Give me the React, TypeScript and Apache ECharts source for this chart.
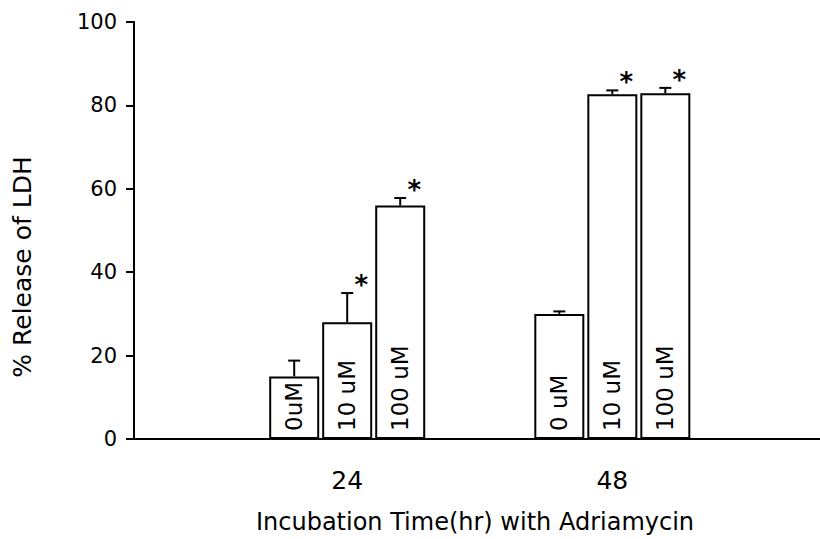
import React, { useEffect, useRef } from "react";
import * as echarts from "echarts";

// Incubation time (hr) groups
const hours = [24, 48];
// Bar labels per dose, per group
const doseLabels0 = ["0uM", "0 uM"];
const doseLabels10 = ["10 uM", "10 uM"];
const doseLabels100 = ["100 uM", "100 uM"];
// % Release of LDH (mean)
const values0 = [15, 30];
const values10 = [28, 82.7];
const values100 = [56, 82.9];
// Top of error bar (mean + SE)
const errTop0 = [18.8, 30.6];
const errTop10 = [35, 83.6];
const errTop100 = [57.8, 84.2];
// Significance marks
const sig0 = [false, false];
const sig10 = [true, true];
const sig100 = [true, true];
// Y ticks
const yTicks = [0, 20, 40, 60, 80, 100];

const FONT = "DejaVu Sans";
const BAR_W = 50;
const BAR_STEP = 53;

export default function App() {
  const ref = useRef<HTMLDivElement>(null);
  useEffect(() => {
    if (!ref.current) return;
    const chart = echarts.init(ref.current, null, { renderer: "svg" });

    const doses = [
      { vals: values0, errs: errTop0, sig: sig0, labels: doseLabels0 },
      { vals: values10, errs: errTop10, sig: sig10, labels: doseLabels10 },
      { vals: values100, errs: errTop100, sig: sig100, labels: doseLabels100 },
    ];

    const barSeries = doses.map((d, di) => ({
      type: "bar",
      name: "dose" + di,
      barWidth: BAR_W,
      barGap: "6%",
      data: hours.map((h, i) => [h, d.vals[i]]),
      itemStyle: { color: "#fff", borderColor: "#000", borderWidth: 2 },
      label: {
        show: true,
        position: "insideBottom",
        distance: 8,
        rotate: 90,
        align: "left",
        verticalAlign: "middle",
        fontFamily: FONT,
        fontSize: 23,
        color: "#000",
        formatter: (p: any) => d.labels[p.dataIndex],
      },
      z: 2,
    }));

    const errData: any[] = [];
    doses.forEach((d, di) => {
      hours.forEach((h, i) => {
        errData.push([h, di, d.vals[i], d.errs[i], d.sig[i] ? 1 : 0]);
      });
    });

    const errSeries = {
      type: "custom",
      data: errData,
      z: 5,
      renderItem: (params: any, api: any) => {
        const h = api.value(0);
        const di = api.value(1);
        const v = api.value(2);
        const e = api.value(3);
        const s = api.value(4);
        const base = api.coord([h, v]);
        const top = api.coord([h, e]);
        const x = base[0] + (di - 1) * BAR_STEP;
        const children: any[] = [
          {
            type: "line",
            shape: { x1: x, y1: base[1], x2: x, y2: top[1] },
            style: { stroke: "#000", lineWidth: 2 },
          },
          {
            type: "line",
            shape: { x1: x - 6, y1: top[1], x2: x + 6, y2: top[1] },
            style: { stroke: "#000", lineWidth: 2 },
          },
        ];
        if (s) {
          children.push({
            type: "text",
            style: {
              text: "*",
              x: x + 14,
              y: top[1] - 8,
              fill: "#000",
              fontFamily: FONT,
              fontWeight: "bold",
              fontSize: 26,
              align: "center",
              verticalAlign: "middle",
            },
          });
        }
        return { type: "group", children };
      },
    };

    chart.setOption({
      animation: false,
      backgroundColor: "#fff",
      grid: { left: 134, right: 0, top: 22, bottom: 100 },
      xAxis: {
        type: "value",
        min: 4.7,
        max: 66.8,
        axisLine: { show: true, lineStyle: { color: "#000", width: 2 } },
        axisTick: { show: false },
        splitLine: { show: false },
        axisLabel: {
          customValues: hours,
          fontFamily: FONT,
          fontSize: 25,
          color: "#000",
          margin: 29,
          formatter: (v: number) => String(v),
        },
      },
      yAxis: {
        type: "value",
        min: yTicks[0],
        max: yTicks[yTicks.length - 1],
        interval: 20,
        axisLine: { show: true, lineStyle: { color: "#000", width: 2 } },
        axisTick: { show: true, length: 8, lineStyle: { color: "#000", width: 2 } },
        splitLine: { show: false },
        axisLabel: {
          fontFamily: FONT,
          fontSize: 21,
          color: "#000",
          margin: 17,
        },
      },
      graphic: [
        {
          type: "text",
          x: 22,
          y: 267,
          rotation: Math.PI / 2,
          style: {
            text: "% Release of LDH",
            fontFamily: FONT,
            fontSize: 25,
            fill: "#000",
            align: "center",
            verticalAlign: "middle",
          },
        },
        {
          type: "text",
          x: 475,
          y: 522,
          style: {
            text: "Incubation Time(hr) with Adriamycin",
            fontFamily: FONT,
            fontSize: 24,
            fill: "#000",
            align: "center",
            verticalAlign: "middle",
          },
        },
      ],
      series: [...barSeries, errSeries],
    });

    return () => chart.dispose();
  }, []);

  return (
    <div
      ref={ref}
      style={{ position: "fixed", left: 0, top: 0, width: 820, height: 539 }}
    />
  );
}
